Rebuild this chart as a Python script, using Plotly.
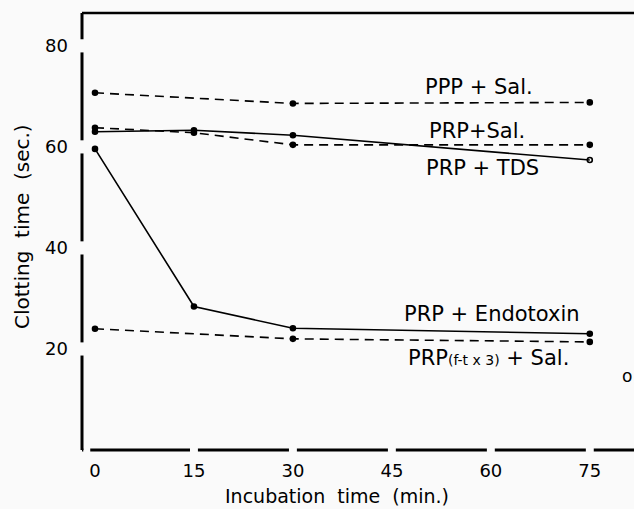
import plotly.graph_objects as go

# ---- data ----
time_min = [0, 15, 30, 75]
ppp_sal = [70.7, None, 68.6, 68.8]
prp_sal = [63.8, 62.8, 60.4, 60.4]
prp_tds = [63.0, 63.3, 62.3, 57.4]
prp_endotoxin = [59.6, 28.4, 24.1, 23.0]
prp_ft_sal = [24.0, None, 22.0, 21.4]

x_ticks = [0, 15, 30, 45, 60, 75]
y_ticks = [20, 40, 60, 80]

FONT = "DejaVu Sans"
X_RANGE = [-1.97, 81.7]
Y_RANGE = [0, 86.5]

fig = go.Figure()

def add_series(y, dash, name, last_open=False):
    xs = [t for t, v in zip(time_min, y) if v is not None]
    ys = [v for v in y if v is not None]
    symbols = ["circle"] * len(xs)
    if last_open:
        symbols[-1] = "circle-open"
    fig.add_trace(go.Scatter(
        x=xs, y=ys, mode="lines+markers", name=name,
        line=dict(color="black", width=1.6, dash=dash),
        marker=dict(color="black", size=5, symbol=symbols,
                    line=dict(color="black", width=1.6)),
        showlegend=False, cliponaxis=False))

add_series(ppp_sal, "9px,6px", "PPP + Sal.")
add_series(prp_sal, "9px,6px", "PRP + Sal.")
add_series(prp_tds, "solid", "PRP + TDS", last_open=True)
add_series(prp_endotoxin, "solid", "PRP + Endotoxin")
add_series(prp_ft_sal, "9px,6px", "PRP(f-t x 3) + Sal.")

shapes = []
AX_W = 3
# left axis with gaps at ticks
ygap = 1.3
segs = []
start = Y_RANGE[0]
for t in y_ticks:
    segs.append((start, t - ygap))
    start = t + ygap
segs.append((start, Y_RANGE[1]))
for a, b in segs:
    shapes.append(dict(type="line", xref="paper", yref="y", x0=0, x1=0, y0=a, y1=b,
                       line=dict(color="black", width=AX_W)))
# bottom axis with gaps at ticks
xgap = 0.6
segs = [(X_RANGE[0], X_RANGE[0] + 0.2)]
start = X_RANGE[0] + 1.25
for t in x_ticks[1:]:
    segs.append((start, t - xgap))
    start = t + xgap
segs.append((start, X_RANGE[1]))
for a, b in segs:
    shapes.append(dict(type="line", xref="x", yref="paper", x0=a, x1=b, y0=0, y1=0,
                       line=dict(color="black", width=AX_W)))
# top frame line
shapes.append(dict(type="line", xref="paper", yref="paper", x0=0, x1=1, y0=1, y1=1,
                   line=dict(color="black", width=2.5)))

ann_font = dict(family=FONT, size=21, color="black")
annotations = [
    dict(x=479, y=87, text="PPP + Sal."),
    dict(x=477, y=131, text="PRP+Sal."),
    dict(x=482, y=168, text="PRP + TDS"),
    dict(x=492, y=314, text="PRP + Endotoxin"),
    dict(x=488, y=358, text="PRP<span style='font-size:14px'>(f-t x 3)</span> + Sal."),
    dict(x=627, y=376, text="<span style='font-size:17px'>o</span>"),
]
ann = []
for a in annotations:
    ann.append(dict(x=(a["x"] - 82) / (634 - 82), y=1 - (a["y"] - 13) / (450 - 13),
                    xref="paper", yref="paper", text=a["text"], showarrow=False,
                    font=ann_font, xanchor="center", yanchor="middle"))
# axis titles
ann.append(dict(x=(337 - 82) / 552, y=1 - (496 - 13) / 437, xref="paper", yref="paper",
                text="Incubation  time  (min.)", showarrow=False,
                font=dict(family=FONT, size=19, color="black"),
                xanchor="center", yanchor="middle"))
ann.append(dict(x=(22 - 82) / 552, y=1 - (227 - 13) / 437, xref="paper", yref="paper",
                text="Clotting  time  (sec.)", showarrow=False, textangle=-90,
                font=dict(family=FONT, size=20, color="black"),
                xanchor="center", yanchor="middle"))

fig.update_layout(
    width=634, height=509,
    margin=dict(l=82, r=0, t=13, b=59),
    paper_bgcolor="#fafafa", plot_bgcolor="#fafafa",
    shapes=shapes, annotations=ann,
    xaxis=dict(range=X_RANGE, tickvals=x_ticks, ticktext=[str(v) for v in x_ticks],
               showgrid=False, zeroline=False, showline=False, ticks="",
               tickfont=dict(family=FONT, size=18, color="black"),
               ticklabelstandoff=8),
    yaxis=dict(range=Y_RANGE, tickvals=y_ticks, ticktext=[str(v) for v in y_ticks],
               showgrid=False, zeroline=False, showline=False, ticks="",
               tickfont=dict(family=FONT, size=18, color="black"),
               ticklabelstandoff=13),
)

fig.write_html("out.html")
